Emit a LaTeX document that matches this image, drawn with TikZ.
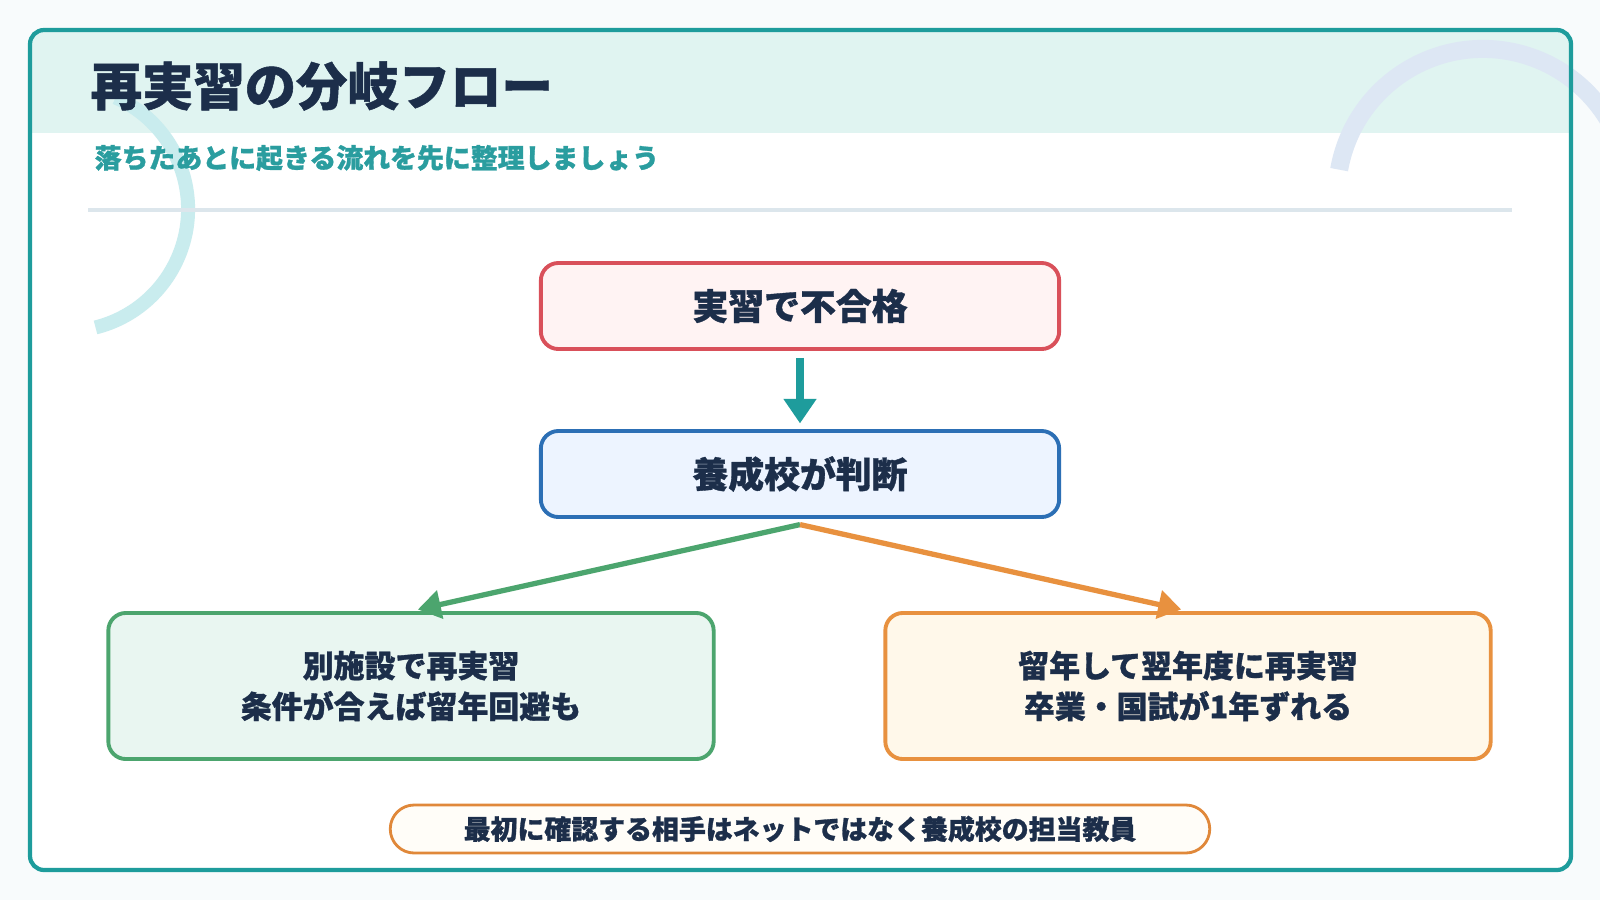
\documentclass[tikz,border=0pt]{standalone}
\usepackage{fontspec}
\newfontfamily\jpfont{Noto Sans CJK JP}[BoldFeatures={FakeBold=1}]
\definecolor{FrameTeal}{HTML}{1E9C9C}
\definecolor{BandTeal}{HTML}{E0F4F1}
\definecolor{ArcTeal}{HTML}{C9ECEE}
\definecolor{ArcBlue}{HTML}{DDE7F4}
\definecolor{RuleGray}{HTML}{DCE6EC}
\definecolor{InkNavy}{HTML}{1C2E4A}
\definecolor{SubTeal}{HTML}{2A9D9F}
\definecolor{FailRed}{HTML}{D9505A}
\definecolor{FailFill}{HTML}{FFF3F3}
\definecolor{JudgeBlue}{HTML}{2C6FB5}
\definecolor{JudgeFill}{HTML}{EDF4FF}
\definecolor{RetryGreen}{HTML}{4CA56E}
\definecolor{RetryFill}{HTML}{E9F6F1}
\definecolor{RepeatOrange}{HTML}{E8913F}
\definecolor{RepeatFill}{HTML}{FFF8EA}
\definecolor{NoteOrange}{HTML}{E0883A}
\definecolor{NoteFill}{HTML}{FFFDF8}
\definecolor{PageTint}{HTML}{F8FBFC}
\usetikzlibrary{arrows.meta}
\tikzset{
  flowbox/.style={rounded corners=5pt, line width=1.1pt, align=center, text=InkNavy, inner sep=0pt, minimum width=5.18cm, minimum height=0.86cm, font=\jpfont\bfseries\fontsize{10.2pt}{12pt}\selectfont},
  branchbox/.style={rounded corners=5pt, line width=1.1pt, align=center, text=InkNavy, inner sep=0pt, minimum width=6.05cm, minimum height=1.46cm, font=\jpfont\bfseries\fontsize{8.8pt}{11.6pt}\selectfont},
  tealarrow/.style={-{Triangle[width=9pt, length=7pt]}, line width=2.2pt, draw=FrameTeal}
}

\begin{document}
\begin{tikzpicture}[x=0.01cm, y=-0.01cm,
  notebox/.style={draw=NoteOrange, fill=NoteFill, line width=0.8pt, rounded corners=6.8pt, minimum width=8.19cm, minimum height=0.48cm, inner sep=0pt, text=InkNavy, font=\jpfont\bfseries\fontsize{7.65pt}{9pt}\selectfont},
  brancharrow/.style={-{Triangle[width=8pt, length=6.5pt]}, line width=1.5pt}
]
\clip (0,0) rectangle (1600,900);
\fill[PageTint] (0,0) rectangle (1600,900);
\fill[white, rounded corners=4pt] (30,30) rectangle (1571,870);
\fill[BandTeal] (32,32) rectangle (1569,133);

% decorative arcs
\draw[ArcTeal, line width=0.14cm] (66,209) ++(66:1.22cm) arc[start angle=66, end angle=-76, radius=1.22cm];
\draw[ArcBlue, line width=0.18cm] (1483,195) ++(170:1.46cm) arc[start angle=170, end angle=25, radius=1.46cm];

\draw[FrameTeal, line width=1.2pt, rounded corners=4pt] (30,30) rectangle (1571,870);
\draw[RuleGray, line width=1pt] (88,210) -- (1512,210);

\node[anchor=west, inner sep=0pt, text=InkNavy, font=\jpfont\bfseries\fontsize{14.6pt}{17pt}\selectfont] (title) at (90,86) {再実習の分岐フロー};
\node[anchor=west, inner sep=0pt, text=SubTeal, font=\jpfont\bfseries\fontsize{7.65pt}{9pt}\selectfont] (subtitle) at (94,158) {落ちたあとに起きる流れを先に整理しましょう};

\node[flowbox, draw=FailRed, fill=FailFill] (fail) at (800,306) {実習で不合格};
\node[flowbox, draw=JudgeBlue, fill=JudgeFill] (judge) at (800,474) {養成校が判断};
\node[branchbox, draw=RetryGreen, fill=RetryFill] (retry) at (411,686) {別施設で再実習\\条件が合えば留年回避も};
\node[branchbox, draw=RepeatOrange, fill=RepeatFill] (repeat) at (1188,686) {留年して翌年度に再実習\\卒業・国試が1年ずれる};
\node[notebox] (note) at (800,829) {最初に確認する相手はネットではなく養成校の担当教員};

\coordinate (fork) at ([yshift=-1.6pt]judge.south);
\draw[tealarrow, shorten <=2pt, shorten >=1.6pt] (fail) -- (judge);
\draw[brancharrow, draw=RetryGreen, fill=RetryGreen, shorten >=2pt] (fork) -- (retry.north);
\draw[brancharrow, draw=RepeatOrange, fill=RepeatOrange, shorten >=2pt] (fork) -- (repeat.north);
\end{tikzpicture}
\end{document}
